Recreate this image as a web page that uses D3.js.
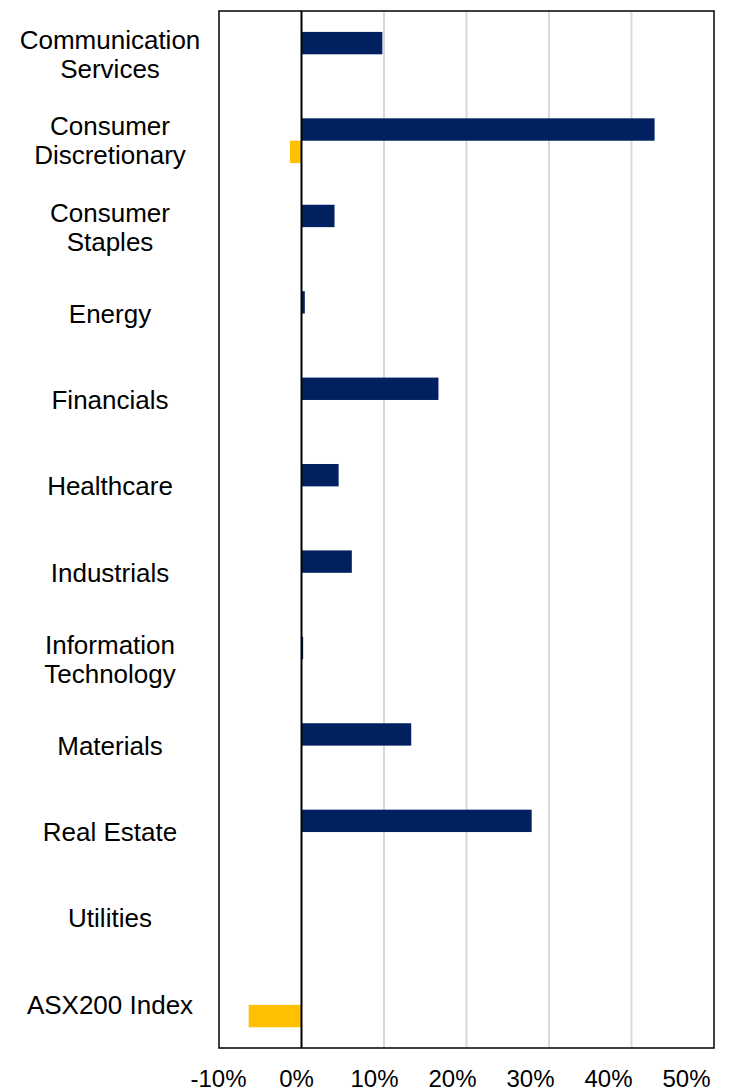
<!DOCTYPE html>
<html><head><meta charset="utf-8">
<script src="https://cdn.jsdelivr.net/npm/d3@7"></script>
<style>body{margin:0;background:#fff}svg{display:block}</style>
</head><body>
<script>
const categories = [
  ["Communication","Services"],
  ["Consumer","Discretionary"],
  ["Consumer","Staples"],
  ["Energy"],
  ["Financials"],
  ["Healthcare"],
  ["Industrials"],
  ["Information","Technology"],
  ["Materials"],
  ["Real Estate"],
  ["Utilities"],
  ["ASX200 Index"]
];
const seriesA = [9.8, 42.8, 4.0, 0.4, 16.6, 4.5, 6.1, 0.2, 13.3, 27.9, 0, 0];   // navy
const seriesB = [0, -1.4, 0, 0, 0, 0, 0, 0, 0, 0, 0, -6.4];                     // yellow
const tickValues = [-10, 0, 10, 20, 30, 40, 50];
const tickLabels = ["-10%","0%","10%","20%","30%","40%","50%"];

const W = 753, H = 1091;
const L = 219, R = 714, T = 11, B = 1048;
const svg = d3.select("body").append("svg").attr("width", W).attr("height", H);
const font = "Liberation Sans, Arial, sans-serif";

const x = d3.scaleLinear().domain([-10, 50]).range([L, R]);
// tick labels in the reference sit on a slightly compressed spacing
const xLab = d3.scaleLinear().domain([-10, 50]).range([218, 686]);
const y = d3.scaleBand().domain(d3.range(categories.length)).range([T, B]);

// grid lines
svg.append("g").selectAll("line").data(tickValues.filter(v => v > 0 && v < 50)).join("line")
  .attr("x1", d => x(d)).attr("x2", d => x(d)).attr("y1", T).attr("y2", B)
  .attr("stroke", "#d9d9d9").attr("stroke-width", 2);

const bh = y.bandwidth() * 0.259, off = y.bandwidth() * 0.242;
function bars(data, idx, color) {
  svg.append("g").selectAll("rect").data(data.map((v, i) => ({v, i})).filter(d => d.v !== 0)).join("rect")
    .attr("x", d => x(Math.min(0, d.v)))
    .attr("width", d => Math.abs(x(d.v) - x(0)))
    .attr("y", d => y(d.i) + off + idx * bh)
    .attr("height", bh)
    .attr("fill", color);
}
bars(seriesA, 0, "#002060");
bars(seriesB, 1, "#FFC000");

// zero line
svg.append("line").attr("x1", x(0)).attr("x2", x(0)).attr("y1", T).attr("y2", B)
  .attr("stroke", "#000").attr("stroke-width", 2);

// border
svg.append("rect").attr("x", L).attr("y", T).attr("width", R - L).attr("height", B - T)
  .attr("fill", "none").attr("stroke", "#000").attr("stroke-width", 1.5);

// category labels
const lh = 29;
const lab = svg.append("g").attr("font-family", font).attr("font-size", 26).attr("fill", "#000").attr("text-anchor", "middle");
categories.forEach((lines, i) => {
  const cy = y(i) + y.bandwidth() / 2;
  const t = lab.append("text").attr("x", 110);
  lines.forEach((s, j) => {
    t.append("tspan").attr("x", 110)
      .attr("y", cy + (j - (lines.length - 1) / 2) * lh)
      .attr("dy", "0.35em").text(s);
  });
});

// x-axis tick labels
const xa = d3.axisBottom(xLab).tickValues(tickValues).tickFormat((d, i) => tickLabels[i]).tickSize(0).tickPadding(0);
const g = svg.append("g").attr("transform", `translate(0,${B + 31})`).call(xa);
g.select(".domain").remove();
g.selectAll("text").attr("font-family", font).attr("font-size", 24).attr("fill", "#000").attr("dy", "0.35em").attr("y", 0);
</script>
</body></html>
